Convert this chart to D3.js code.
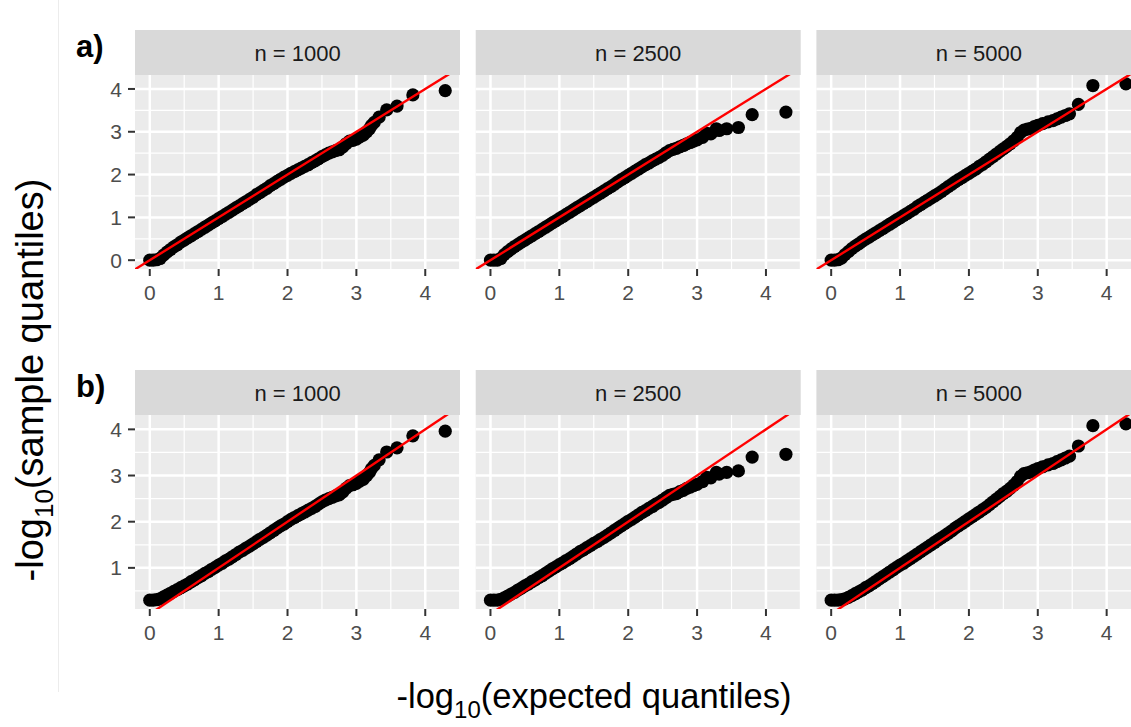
<!DOCTYPE html>
<html lang="en">
  <head>
    <meta charset="UTF-8" />
    <title>qq-facets</title>
    <style>
      body { margin: 0; background: #fff; }
      text { font-family: "Liberation Sans", Arial, sans-serif; }
    </style>
  </head>
  <body>
    <svg width="1131" height="727" id="svg"></svg>
    <script src="https://cdnjs.cloudflare.com/ajax/libs/d3/7.8.5/d3.min.js"></script>
    <script>
      // facet strips / row tags / ticks
      const facetLabels = ["n = 1000", "n = 2500", "n = 5000"];
      const rowTags = ["a)", "b)"];
      const xTicks = [0, 1, 2, 3, 4];
      const yTicksA = [0, 1, 2, 3, 4];
      const yTicksB = [1, 2, 3, 4];

      // [expected, sample] pairs
      const a1000 = [[0.00,0.00],[0.05,0.00],[0.10,0.01],[0.15,0.04],[0.20,0.12],[0.25,0.19],[0.30,0.25],[0.35,0.31],[0.40,0.36],[0.45,0.42],[0.50,0.47],[0.55,0.52],[0.60,0.57],[0.65,0.62],[0.70,0.67],[0.75,0.72],[0.80,0.77],[0.85,0.82],[0.90,0.87],[0.95,0.92],[1.00,0.97],[1.05,1.02],[1.10,1.07],[1.15,1.12],[1.20,1.17],[1.25,1.22],[1.30,1.27],[1.35,1.32],[1.40,1.37],[1.45,1.42],[1.50,1.47],[1.55,1.53],[1.60,1.58],[1.65,1.63],[1.70,1.68],[1.75,1.74],[1.80,1.79],[1.85,1.84],[1.90,1.89],[1.95,1.94],[2.00,1.98],[2.05,2.03],[2.10,2.07],[2.15,2.11],[2.20,2.15],[2.25,2.19],[2.30,2.23],[2.35,2.28],[2.40,2.32],[2.45,2.37],[2.50,2.42],[2.55,2.46],[2.60,2.50],[2.65,2.53],[2.70,2.56],[2.75,2.58],[2.80,2.64],[2.85,2.72],[2.90,2.78],[2.95,2.80],[3.00,2.83],[3.05,2.88],[3.10,2.92],[3.15,3.00],[3.19,3.07],[3.22,3.15],[3.26,3.22],[3.33,3.34],[3.44,3.51],[3.59,3.60],[3.82,3.86],[4.29,3.96]];
      const a2500 = [[0.00,0.00],[0.05,0.00],[0.10,0.00],[0.15,0.04],[0.20,0.13],[0.25,0.20],[0.30,0.26],[0.35,0.32],[0.40,0.37],[0.45,0.42],[0.50,0.47],[0.55,0.52],[0.60,0.57],[0.65,0.62],[0.70,0.67],[0.75,0.72],[0.80,0.77],[0.85,0.82],[0.90,0.87],[0.95,0.92],[1.00,0.97],[1.05,1.02],[1.10,1.07],[1.15,1.12],[1.20,1.17],[1.25,1.22],[1.30,1.27],[1.35,1.32],[1.40,1.37],[1.45,1.42],[1.50,1.47],[1.55,1.52],[1.60,1.57],[1.65,1.62],[1.70,1.67],[1.75,1.72],[1.80,1.77],[1.85,1.83],[1.90,1.88],[1.95,1.93],[2.00,1.98],[2.05,2.03],[2.10,2.08],[2.15,2.13],[2.20,2.18],[2.25,2.23],[2.30,2.27],[2.35,2.32],[2.40,2.36],[2.45,2.40],[2.50,2.45],[2.55,2.51],[2.60,2.56],[2.65,2.59],[2.70,2.61],[2.75,2.65],[2.80,2.68],[2.85,2.72],[2.90,2.75],[2.95,2.78],[3.00,2.81],[3.08,2.87],[3.14,2.96],[3.20,2.95],[3.28,3.07],[3.32,3.03],[3.43,3.07],[3.60,3.10],[3.80,3.40],[4.29,3.46]];
      const a5000 = [[0.00,0.00],[0.05,0.00],[0.10,0.01],[0.15,0.05],[0.20,0.13],[0.25,0.20],[0.30,0.27],[0.35,0.33],[0.40,0.38],[0.45,0.44],[0.50,0.49],[0.55,0.54],[0.60,0.59],[0.65,0.64],[0.70,0.69],[0.75,0.74],[0.80,0.79],[0.85,0.84],[0.90,0.89],[0.95,0.94],[1.00,0.99],[1.05,1.04],[1.10,1.09],[1.15,1.14],[1.20,1.19],[1.25,1.25],[1.30,1.30],[1.35,1.35],[1.40,1.40],[1.45,1.45],[1.50,1.50],[1.55,1.55],[1.60,1.60],[1.65,1.66],[1.70,1.72],[1.75,1.77],[1.80,1.83],[1.85,1.88],[1.90,1.93],[1.95,1.98],[2.00,2.03],[2.05,2.08],[2.10,2.13],[2.15,2.19],[2.20,2.24],[2.25,2.30],[2.30,2.36],[2.35,2.42],[2.40,2.48],[2.45,2.54],[2.50,2.60],[2.55,2.66],[2.60,2.72],[2.65,2.79],[2.70,2.87],[2.75,2.98],[2.80,3.04],[2.85,3.06],[2.90,3.08],[2.95,3.12],[3.00,3.15],[3.07,3.19],[3.15,3.23],[3.22,3.26],[3.28,3.30],[3.34,3.34],[3.40,3.38],[3.46,3.42],[3.59,3.64],[3.80,4.08],[4.28,4.12]];

      const b1000 = [[0.00,0.30],[0.05,0.30],[0.10,0.31],[0.15,0.33],[0.20,0.37],[0.25,0.41],[0.30,0.45],[0.35,0.49],[0.40,0.53],[0.45,0.57],[0.50,0.61],[0.55,0.65],[0.60,0.70],[0.65,0.74],[0.70,0.79],[0.75,0.83],[0.80,0.88],[0.85,0.92],[0.90,0.97],[0.95,1.01],[1.00,1.06],[1.05,1.10],[1.10,1.15],[1.15,1.19],[1.20,1.24],[1.25,1.29],[1.30,1.34],[1.35,1.38],[1.40,1.43],[1.45,1.47],[1.50,1.52],[1.55,1.57],[1.60,1.62],[1.65,1.66],[1.70,1.71],[1.75,1.76],[1.80,1.81],[1.85,1.86],[1.90,1.91],[1.95,1.95],[2.00,2.00],[2.05,2.05],[2.10,2.09],[2.15,2.13],[2.20,2.17],[2.25,2.21],[2.30,2.25],[2.35,2.29],[2.40,2.33],[2.45,2.38],[2.50,2.43],[2.55,2.47],[2.60,2.50],[2.65,2.53],[2.70,2.56],[2.75,2.58],[2.80,2.64],[2.85,2.72],[2.90,2.78],[2.95,2.80],[3.00,2.83],[3.05,2.88],[3.10,2.92],[3.15,3.00],[3.19,3.07],[3.22,3.15],[3.26,3.22],[3.33,3.34],[3.44,3.51],[3.59,3.60],[3.82,3.86],[4.29,3.96]];
      const b2500 = [[0.00,0.30],[0.05,0.30],[0.10,0.30],[0.15,0.32],[0.20,0.35],[0.25,0.39],[0.30,0.43],[0.35,0.47],[0.40,0.52],[0.45,0.56],[0.50,0.61],[0.55,0.65],[0.60,0.70],[0.65,0.74],[0.70,0.79],[0.75,0.83],[0.80,0.88],[0.85,0.93],[0.90,0.98],[0.95,1.02],[1.00,1.07],[1.05,1.11],[1.10,1.16],[1.15,1.20],[1.20,1.25],[1.25,1.30],[1.30,1.35],[1.35,1.39],[1.40,1.44],[1.45,1.48],[1.50,1.53],[1.55,1.57],[1.60,1.62],[1.65,1.66],[1.70,1.71],[1.75,1.76],[1.80,1.81],[1.85,1.86],[1.90,1.91],[1.95,1.96],[2.00,2.01],[2.05,2.05],[2.10,2.10],[2.15,2.15],[2.20,2.20],[2.25,2.24],[2.30,2.29],[2.35,2.33],[2.40,2.38],[2.45,2.42],[2.50,2.47],[2.55,2.52],[2.60,2.57],[2.65,2.59],[2.70,2.61],[2.75,2.65],[2.80,2.68],[2.85,2.72],[2.90,2.75],[2.95,2.78],[3.00,2.81],[3.08,2.87],[3.14,2.96],[3.20,2.95],[3.28,3.07],[3.32,3.03],[3.43,3.07],[3.60,3.10],[3.80,3.40],[4.29,3.46]];
      const b5000 = [[0.00,0.30],[0.05,0.30],[0.10,0.30],[0.15,0.31],[0.20,0.33],[0.25,0.36],[0.30,0.40],[0.35,0.44],[0.40,0.48],[0.45,0.52],[0.50,0.57],[0.55,0.61],[0.60,0.66],[0.65,0.71],[0.70,0.76],[0.75,0.81],[0.80,0.86],[0.85,0.91],[0.90,0.96],[0.95,1.01],[1.00,1.06],[1.05,1.10],[1.10,1.15],[1.15,1.20],[1.20,1.25],[1.25,1.30],[1.30,1.35],[1.35,1.40],[1.40,1.45],[1.45,1.50],[1.50,1.55],[1.55,1.60],[1.60,1.65],[1.65,1.70],[1.70,1.75],[1.75,1.80],[1.80,1.86],[1.85,1.91],[1.90,1.96],[1.95,2.01],[2.00,2.06],[2.05,2.11],[2.10,2.16],[2.15,2.21],[2.20,2.26],[2.25,2.31],[2.30,2.37],[2.35,2.43],[2.40,2.49],[2.45,2.55],[2.50,2.61],[2.55,2.66],[2.60,2.72],[2.65,2.79],[2.70,2.87],[2.75,2.98],[2.80,3.04],[2.85,3.06],[2.90,3.08],[2.95,3.12],[3.00,3.15],[3.07,3.19],[3.15,3.23],[3.22,3.26],[3.28,3.30],[3.34,3.34],[3.40,3.38],[3.46,3.42],[3.59,3.64],[3.80,4.08],[4.28,4.12]];

      const rows = [
        { tag: rowTags[0], panels: [a1000, a2500, a5000], yTicks: yTicksA },
        { tag: rowTags[1], panels: [b1000, b2500, b5000], yTicks: yTicksB },
      ];

      const svg = d3.select("#svg");
      const panelLeft = 135;
      const panelW = 325;
      const panelStep = 340.7;
      const stripH = 45;
      const panelH = 194;
      const rowTop = [30, 370];
      const pointR = 6.6;

      // ggplot-ish 5% expansion
      const expand = ([lo, hi]) => [lo - 0.05 * (hi - lo), hi + 0.05 * (hi - lo)];
      const allPts = rows.flatMap((r) => r.panels.flat());
      const xDomain = expand([0, d3.max(allPts, (d) => d[0])]);
      const x = d3.scaleLinear().domain(xDomain).range([0, panelW]);
      const minorOf = (majors, dom) =>
        majors.map((m) => m - 0.5).concat([majors[majors.length - 1] + 0.5])
          .filter((v) => v >= dom[0] && v <= dom[1]);

      // faint guide line on the left
      svg.append("line")
        .attr("x1", 58.5).attr("x2", 58.5).attr("y1", 0).attr("y2", 692)
        .attr("stroke", "#ececec").attr("stroke-width", 1);

      rows.forEach((row, ri) => {
        const top = rowTop[ri];
        const pts = row.panels.flat();
        const yDomain = expand(d3.extent(pts, (d) => d[1]));
        const y = d3.scaleLinear().domain(yDomain).range([panelH, 0]);
        const yMajor = d3.range(Math.ceil(yDomain[0]), Math.floor(yDomain[1]) + 1);
        const yMinor = minorOf(yMajor, yDomain);
        const xMinor = minorOf(xTicks, xDomain);

        svg.append("text")
          .attr("x", 76).attr("y", top + 27)
          .attr("font-size", 31).attr("font-weight", "bold")
          .attr("fill", "#000")
          .text(row.tag);

        row.panels.forEach((data, pi) => {
          const left = panelLeft + pi * panelStep;
          const g = svg.append("g").attr("transform", `translate(${left}, ${top})`);

          // strip
          g.append("rect")
            .attr("width", panelW).attr("height", stripH)
            .attr("fill", "#d9d9d9");
          g.append("text")
            .attr("x", panelW / 2).attr("y", stripH / 2 + 8)
            .attr("text-anchor", "middle")
            .attr("font-size", 22).attr("fill", "#1a1a1a")
            .text(facetLabels[pi]);

          const p = g.append("g").attr("transform", `translate(0, ${stripH})`);
          const clipId = `clip-${ri}-${pi}`;
          p.append("clipPath").attr("id", clipId)
            .append("rect").attr("width", panelW).attr("height", panelH);

          p.append("rect")
            .attr("width", panelW).attr("height", panelH)
            .attr("fill", "#ebebeb");

          // minor grid
          p.selectAll(".vminor").data(xMinor).join("line")
            .attr("x1", (d) => x(d)).attr("x2", (d) => x(d))
            .attr("y1", 0).attr("y2", panelH)
            .attr("stroke", "#fff").attr("stroke-width", 1.2);
          p.selectAll(".hminor").data(yMinor).join("line")
            .attr("y1", (d) => y(d)).attr("y2", (d) => y(d))
            .attr("x1", 0).attr("x2", panelW)
            .attr("stroke", "#fff").attr("stroke-width", 1.2);
          // major grid
          p.selectAll(".vmajor").data(xTicks).join("line")
            .attr("x1", (d) => x(d)).attr("x2", (d) => x(d))
            .attr("y1", 0).attr("y2", panelH)
            .attr("stroke", "#fff").attr("stroke-width", 2.5);
          p.selectAll(".hmajor").data(yMajor).join("line")
            .attr("y1", (d) => y(d)).attr("y2", (d) => y(d))
            .attr("x1", 0).attr("x2", panelW)
            .attr("stroke", "#fff").attr("stroke-width", 2.5);

          const plot = p.append("g").attr("clip-path", `url(#${clipId})`);
          plot.selectAll("circle").data(data).join("circle")
            .attr("cx", (d) => x(d[0]))
            .attr("cy", (d) => y(d[1]))
            .attr("r", pointR)
            .attr("fill", "#000");

          // identity line
          const lo = Math.min(xDomain[0], yDomain[0]);
          const hi = Math.max(xDomain[1], yDomain[1]);
          plot.append("line")
            .attr("x1", x(lo)).attr("y1", y(lo))
            .attr("x2", x(hi)).attr("y2", y(hi))
            .attr("stroke", "#ff0000").attr("stroke-width", 2.4);

          // x axis
          const xa = p.append("g").attr("transform", `translate(0, ${panelH})`);
          xa.selectAll("line").data(xTicks).join("line")
            .attr("x1", (d) => x(d)).attr("x2", (d) => x(d))
            .attr("y1", 0).attr("y2", 7)
            .attr("stroke", "#333").attr("stroke-width", 2);
          xa.selectAll("text").data(xTicks).join("text")
            .attr("x", (d) => x(d)).attr("y", 31)
            .attr("text-anchor", "middle")
            .attr("font-size", 21).attr("fill", "#4d4d4d")
            .text((d) => d);

          if (pi === 0) {
            const ya = p.append("g");
            ya.selectAll("line").data(row.yTicks).join("line")
              .attr("y1", (d) => y(d)).attr("y2", (d) => y(d))
              .attr("x1", -7).attr("x2", 0)
              .attr("stroke", "#333").attr("stroke-width", 2);
            ya.selectAll("text").data(row.yTicks).join("text")
              .attr("x", -13).attr("y", (d) => y(d))
              .attr("dy", "0.36em")
              .attr("text-anchor", "end")
              .attr("font-size", 21).attr("fill", "#4d4d4d")
              .text((d) => d);
          }
        });
      });

      // axis titles
      const xTitle = svg.append("text")
        .attr("x", 594).attr("y", 708)
        .attr("text-anchor", "middle")
        .attr("font-size", 34.5).attr("fill", "#000");
      xTitle.append("tspan").text("-log");
      xTitle.append("tspan").attr("font-size", 24).attr("dy", 10).text("10");
      xTitle.append("tspan").attr("dy", -10).text("(expected quantiles)");

      const yTitle = svg.append("text")
        .attr("transform", "translate(43, 380) rotate(-90)")
        .attr("text-anchor", "middle")
        .attr("font-size", 38).attr("fill", "#000");
      yTitle.append("tspan").text("-log");
      yTitle.append("tspan").attr("font-size", 26).attr("dy", 10).text("10");
      yTitle.append("tspan").attr("dy", -10).text("(sample quantiles)");
    </script>
  </body>
</html>
